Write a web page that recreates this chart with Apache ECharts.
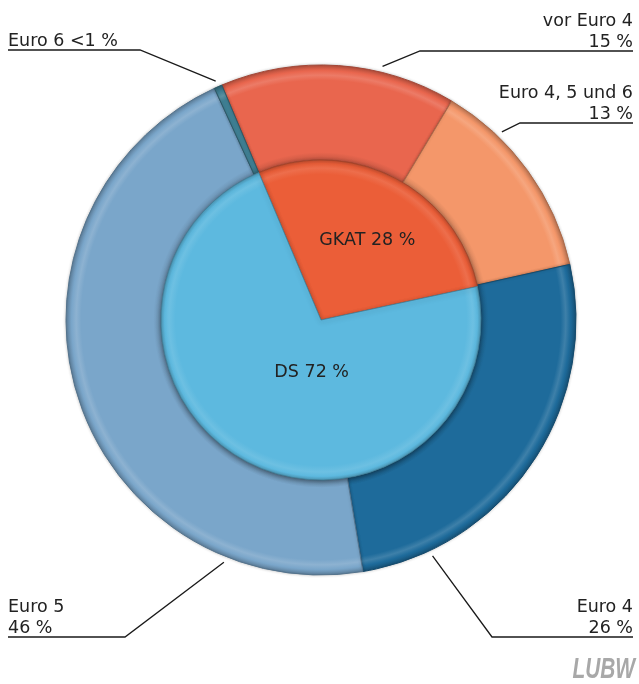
<!DOCTYPE html>
<html>
<head>
<meta charset="utf-8">
<script src="https://cdn.jsdelivr.net/npm/echarts@6/dist/echarts.min.js"></script>
<style>
  html, body { margin: 0; padding: 0; background: #ffffff; }
  #chart { width: 639px; height: 684px; }
</style>
</head>
<body>
<div id="chart"></div>
<script>
// Fuel type shares (inner pie), in percent
const fuelNames = ['GKAT', 'DS'];
const fuelShares = [28, 72];

// Emission class shares (outer ring), in percent; Euro 6 is below 1 %
const classNames = ['vor Euro 4', 'Euro 4, 5 und 6', 'Euro 4', 'Euro 5', 'Euro 6'];
const classShares = [15, 13, 26, 46, 0.5];

// Colours
const fuelColors = ['#EB5E38', '#5DB9DF'];
const classColors = ['#E9664E', '#F4976A', '#1E6B9B', '#7AA6CA', '#3F7F93'];

// Geometry (pixels)
const CX = 321, CY = 320, R_IN = 160, R_OUT = 255;
const START = 112.9;

// Callout placement for the outer ring labels
const callouts = [
  { align: 'right', x: 633, lineY: 51,  bendX: 420, frac: 0.68 },
  { align: 'right', x: 633, lineY: 123, bendX: 520, frac: 0.28 },
  { align: 'right', x: 633, lineY: 637, bendX: 492, frac: 0.83 },
  { align: 'left',  x: 8,   lineY: 637, bendX: 125, frac: 0.19 },
  { align: 'left',  x: 8,   lineY: 50,  bendX: 140, frac: 0.5 }
];

function shade(hex, amt) {
  const n = parseInt(hex.slice(1), 16);
  let r = (n >> 16) & 255, g = (n >> 8) & 255, b = n & 255;
  const f = (c) => amt >= 0 ? Math.round(c + (255 - c) * amt) : Math.round(c * (1 + amt));
  return 'rgb(' + f(r) + ',' + f(g) + ',' + f(b) + ')';
}

// Bevelled fill: radial gradient around the pie centre
function ringFill(hex) {
  const f0 = R_IN / R_OUT;
  return {
    type: 'radial', x: CX, y: CY, r: R_OUT, global: true,
    colorStops: [
      { offset: 0, color: hex },
      { offset: f0, color: shade(hex, -0.15) },
      { offset: f0 + 0.03, color: hex },
      { offset: 0.94, color: hex },
      { offset: 0.96, color: shade(hex, 0.14) },
      { offset: 0.978, color: hex },
      { offset: 1, color: shade(hex, -0.22) }
    ]
  };
}
function discFill(hex) {
  return {
    type: 'radial', x: CX, y: CY, r: R_IN, global: true,
    colorStops: [
      { offset: 0, color: hex },
      { offset: 0.91, color: hex },
      { offset: 0.95, color: shade(hex, 0.1) },
      { offset: 0.978, color: hex },
      { offset: 1, color: shade(hex, -0.18) }
    ]
  };
}

const classTotal = classShares.reduce((a, b) => a + b, 0);
function anchorPoint(i) {
  let cum = 0;
  for (let k = 0; k < i; k++) cum += classShares[k];
  const a = (START - (cum + callouts[i].frac * classShares[i]) / classTotal * 360) * Math.PI / 180;
  const r = R_OUT + 6;
  return [CX + r * Math.cos(a), CY - r * Math.sin(a)];
}

const chart = echarts.init(document.getElementById('chart'), null, { renderer: 'canvas' });

const fontFamily = '"DejaVu Sans", sans-serif';

chart.setOption({
  backgroundColor: '#ffffff',
  animation: false,
  series: [
    {
      type: 'pie',
      name: 'Emissionsklasse',
      center: [CX, CY],
      radius: [R_IN, R_OUT],
      startAngle: START,
      clockwise: true,
      avoidLabelOverlap: false,
      data: classNames.map((n, i) => ({
        name: n,
        value: classShares[i],
        itemStyle: {
          color: ringFill(classColors[i]),
          borderColor: shade(classColors[i], -0.3),
          borderWidth: 1
        }
      })),
      itemStyle: {
        shadowBlur: 3,
        shadowColor: 'rgba(0,0,0,0.22)'
      },
      label: {
        show: true,
        position: 'outside',
        color: '#222222',
        fontFamily: fontFamily,
        fontSize: 17.5,
        lineHeight: 21,
        formatter: (p) => {
          const v = p.value < 1 ? '<1' : String(p.value);
          return p.value < 1 ? p.name + ' ' + v + ' %' : p.name + '\n' + v + ' %';
        }
      },
      labelLine: {
        show: true,
        smooth: false,
        lineStyle: { color: '#1a1a1a', width: 1.3 }
      },
      labelLayout: (params) => {
        const c = callouts[params.dataIndex];
        if (!c) return {};
        const pt = anchorPoint(params.dataIndex);
        return {
          x: c.x,
          y: c.lineY + 2,
          align: c.align,
          verticalAlign: 'bottom',
          labelLinePoints: [pt, [c.bendX, c.lineY], [c.x, c.lineY]]
        };
      },
      emphasis: { disabled: true },
      z: 1
    },
    {
      type: 'pie',
      name: 'Kraftstoff',
      center: [CX, CY],
      radius: [0, R_IN],
      startAngle: START,
      clockwise: true,
      data: fuelNames.map((n, i) => ({
        name: n,
        value: fuelShares[i],
        itemStyle: {
          color: discFill(fuelColors[i]),
          borderColor: shade(fuelColors[i], -0.3),
          borderWidth: 0.8
        }
      })),
      itemStyle: {
        shadowBlur: 5,
        shadowColor: 'rgba(0,0,0,0.3)',
        shadowOffsetY: 2
      },
      label: {
        show: true,
        position: 'inside',
        color: '#222222',
        fontFamily: fontFamily,
        fontSize: 17.5,
        formatter: '{b} {c} %'
      },
      labelLine: { show: false },
      labelLayout: (params) => params.dataIndex === 0 ? { dx: 8, dy: -6 } : { dx: 29, dy: -21 },
      emphasis: { disabled: true },
      z: 2
    }
  ],
  graphic: [
    {
      type: 'text',
      x: 635,
      y: 655,
      scaleX: 0.72,
      style: {
        text: 'LUBW',
        font: 'italic bold 29px "Liberation Sans", sans-serif',
        fill: '#a8a8a8',
        align: 'right',
        verticalAlign: 'top'
      }
    }
  ]
});
</script>
</body>
</html>
